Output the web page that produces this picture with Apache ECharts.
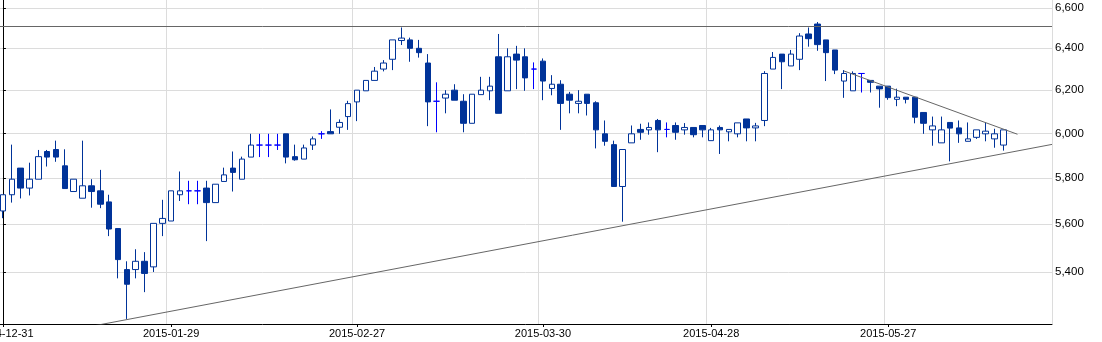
<!DOCTYPE html>
<html><head><meta charset="utf-8">
<script src="https://cdn.jsdelivr.net/npm/echarts@6/dist/echarts.min.js"></script>
<style>html,body{margin:0;padding:0;background:#fff}#c{width:1102px;height:342px}</style>
</head><body><div id="c"></div><script>
// trading calendar (holidays skipped)
const holidays = ['2015-01-01','2015-01-19','2015-04-03','2015-04-06','2015-05-25'];
const categoryCount = 119;
const tickDates = ['2014-12-31','2015-01-29','2015-02-27','2015-03-30','2015-04-28','2015-05-27'];
const yTicks = [5400,5600,5800,6000,6200,6400,6600];

const opens  = [5657,5727,5844,5756,5795,5918,5927,5854,5741,5712,5766,5744,5696,5582,5411,5411,5445,5422,5604,5614,
                5727,5744,5744,5756,5693,5785,5844,5795,5893,5947,5947,5947,5998,5895,5884,5947,5998,6008,6028,6077,
                6145,6197,6246,6300,6347,6438,6441,6400,6329,6148,6163,6200,6148,6046,6179,6197,6359,6197,6372,6359,
                6300,6338,6208,6228,6181,6138,6181,6141,5998,5949,5763,5957,6018,6016,6059,6018,6036,6016,6027,6036,
                5967,6027,6007,5998,6066,6025,6059,6300,6372,6315,6347,6470,6519,6441,6392,6243,6197,6279,6246,6219,
                6219,6157,6167,6167,6096,6016,5957,6050,6025,5964,5982,5998,5975,5947];
const closes = [5727,5795,5756,5795,5895,5893,5893,5754,5795,5766,5741,5686,5580,5452,5351,5445,5395,5604,5625,5744,
                5744,5744,5744,5693,5773,5814,5825,5884,5947,5947,5947,5947,5893,5881,5934,5975,5998,5998,6050,6137,
                6200,6246,6290,6329,6441,6450,6400,6379,6145,6148,6181,6153,6046,6181,6200,6219,6092,6359,6343,6258,
                6300,6243,6228,6138,6153,6148,6138,6016,5964,5763,5927,5998,6005,6027,6016,6018,6005,6027,5994,6016,
                6016,6016,6018,6048,6025,6034,6279,6356,6335,6372,6460,6447,6418,6379,6295,6279,6279,6279,6237,6206,
                6165,6167,6157,6074,6046,6034,6016,6024,5998,5975,6016,6010,5998,6016];
const lows   = [5626,5693,5711,5724,5795,5851,5872,5754,5741,5712,5671,5669,5550,5375,5212,5375,5319,5401,5550,5614,
                5700,5686,5686,5529,5693,5785,5741,5795,5893,5893,5893,5925,5865,5877,5884,5925,5975,5998,5998,6016,
                6056,6197,6246,6289,6295,6416,6335,6355,6033,6005,6092,6153,6005,6046,6179,6153,6092,6197,6205,6197,
                6205,6153,6176,6016,6092,6092,6082,5932,5944,5763,5611,5957,5971,5994,5915,5982,5971,5994,5982,5982,
                5967,5907,5964,5982,5964,5964,6033,6300,6205,6315,6295,6408,6388,6243,6276,6164,6197,6189,6189,6118,
                6155,6125,6138,6046,5998,5944,5957,5874,5957,5964,5975,5964,5935,5922];
const highs  = [5727,5949,5844,5868,5925,5925,5967,5928,5795,5967,5795,5836,5727,5582,5445,5495,5483,5604,5705,5744,
                5829,5788,5788,5788,5773,5846,5918,5895,5998,5998,5998,5998,5998,5949,5949,5986,6010,6110,6064,6150,
                6200,6246,6310,6343,6441,6502,6452,6441,6372,6237,6200,6228,6181,6181,6263,6263,6470,6400,6412,6400,
                6332,6351,6271,6247,6192,6200,6181,6148,6059,5967,5927,6036,6044,6050,6066,6050,6050,6047,6027,6036,
                6025,6036,6018,6048,6066,6048,6290,6382,6372,6392,6474,6502,6529,6441,6392,6295,6289,6279,6246,6219,
                6219,6207,6167,6167,6096,6077,6077,6050,6059,6050,6016,6050,6021,6016];

// drawn trend lines: [bar index, value]
const resistanceLevel = 6509;
const supportLine = [[10.0, 5183], [118.5, 5950]];
const downTrendLine = [[95, 6291], [114.6, 5996]];

function buildDates() {
  const d = new Date(Date.UTC(2014, 11, 31));
  const out = [];
  while (out.length < categoryCount) {
    const s = d.toISOString().slice(0, 10);
    const wd = d.getUTCDay();
    if (wd !== 0 && wd !== 6 && !holidays.includes(s)) out.push(s);
    d.setUTCDate(d.getUTCDate() + 1);
  }
  return out;
}
const dates = buildDates();
const ohlc = opens.map((o, i) => [o, closes[i], lows[i], highs[i]]);
const showTick = (idx, val) => tickDates.includes(val);
const FONT = '"Liberation Sans", Arial, sans-serif';
const trendStyle = {color: '#666666', width: 1, type: 'solid'};

const chart = echarts.init(document.getElementById('c'), null, {renderer: 'canvas'});
chart.setOption({
  animation: false,
  backgroundColor: '#fff',
  grid: {left: -1.5, right: 50, top: 0, bottom: 18, containLabel: false, outerBoundsMode: 'none'},
  xAxis: [{
    type: 'category', data: dates, boundaryGap: true,
    axisLine: {show: true, lineStyle: {color: '#000', width: 1}},
    axisTick: {show: true, alignWithLabel: true, length: 3, interval: showTick, lineStyle: {color: '#000'}},
    axisLabel: {interval: showTick, color: '#000', fontSize: 11, fontFamily: FONT, margin: 4, hideOverlap: false,
      formatter: (v, i) => i === 0 ? '{first|' + v + '}' : v,
      rich: {first: {color: '#000', fontSize: 11, fontFamily: FONT, padding: [0, 0, 0, 5]}}},
    splitLine: {show: true, interval: showTick, lineStyle: {color: '#dcdcdc', width: 1}}
  }, {
    type: 'value', min: -0.5, max: categoryCount - 0.5, show: false,
    splitLine: {show: false}
  }],
  yAxis: {
    type: 'log', position: 'right', min: 5192, max: 6639, logBase: 10,
    axisLine: {show: true, lineStyle: {color: '#000', width: 1}},
    axisTick: {show: true, length: 3, customValues: yTicks, lineStyle: {color: '#000'}},
    axisLabel: {customValues: yTicks, color: '#000', fontSize: 11.5, fontFamily: FONT, margin: 3,
      formatter: v => Number(v).toLocaleString('en-US')},
    splitLine: {show: true, lineStyle: {color: '#dcdcdc', width: 1}}
  },
  series: [{
    type: 'candlestick', data: ohlc, barWidth: 6,
    itemStyle: {color: '#ffffff', color0: '#003399', borderColor: '#003399', borderColor0: '#003399',
      borderColorDoji: '#0000ff', borderWidth: 1},
    markLine: {
      silent: true, symbol: ['none', 'none'], label: {show: false},
      lineStyle: trendStyle, emphasis: {disabled: true},
      data: [{yAxis: resistanceLevel}]
    }
  }, {
    type: 'line', xAxisIndex: 1, data: supportLine, symbol: 'none', silent: true, clip: true,
    lineStyle: trendStyle, emphasis: {disabled: true}
  }, {
    type: 'line', xAxisIndex: 1, data: downTrendLine, symbol: 'none', silent: true, clip: true,
    lineStyle: trendStyle, emphasis: {disabled: true}
  }]
});
</script></body></html>
